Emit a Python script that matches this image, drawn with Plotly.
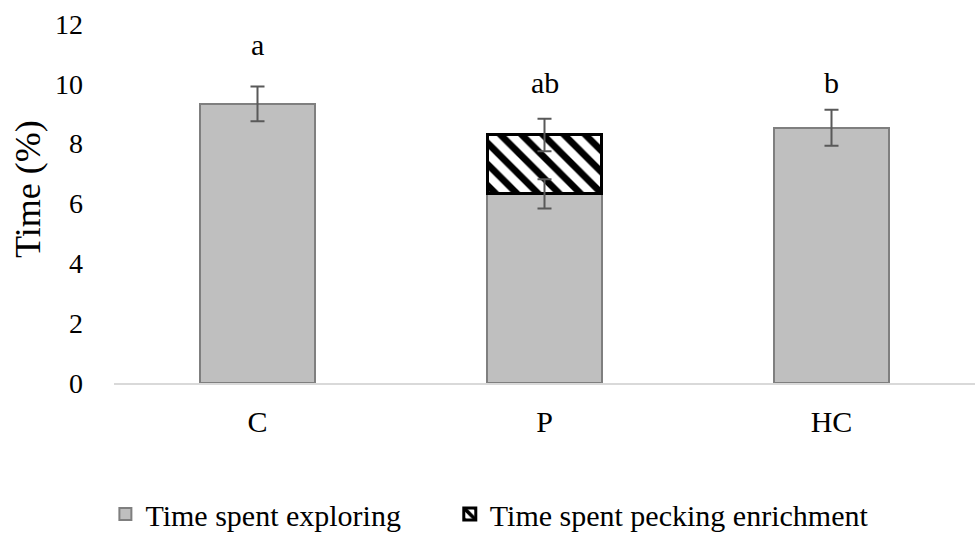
import plotly.graph_objects as go

categories = ["C", "P", "HC"]
explore = [9.33, 6.32, 8.53]
explore_err = [0.58, 0.49, 0.60]
pecking = [None, 1.97, None]
total_err = [None, 0.54, None]
letters = ["a", "ab", "b"]
letter_y = [11.3, 10.05, 10.05]

FONT = "Liberation Serif"

fig = go.Figure()
fig.add_trace(go.Bar(
    x=categories, y=explore, name="Time spent exploring",
    marker=dict(color="#bfbfbf", line=dict(color="#7f7f7f", width=2)),
    width=0.4, legend="legend",
))
fig.add_trace(go.Bar(
    x=categories, y=pecking, name="Time spent pecking enrichment",
    marker=dict(color="white", line=dict(color="black", width=3),
                pattern=dict(shape="\\", fgcolor="black", bgcolor="white", fgopacity=1,
                             size=15, solidity=0.45)),
    width=0.4, legend="legend2",
))
# error bars drawn above bars
fig.add_trace(go.Scatter(
    x=categories, y=explore, mode="markers", marker=dict(opacity=0, size=1),
    error_y=dict(type="data", array=explore_err, color="#595959", thickness=2, width=7),
    showlegend=False, hoverinfo="skip",
))
totals = [e + p if p is not None else None for e, p in zip(explore, pecking)]
fig.add_trace(go.Scatter(
    x=categories, y=totals, mode="markers", marker=dict(opacity=0, size=1),
    error_y=dict(type="data", array=total_err, color="#595959", thickness=2, width=7),
    showlegend=False, hoverinfo="skip",
))

for c, t, ly in zip(categories, letters, letter_y):
    fig.add_annotation(x=c, y=ly, text=t, showarrow=False,
                       font=dict(family=FONT, size=30, color="black"))

# y axis title
fig.add_annotation(xref="paper", yref="paper", x=-0.1, y=0.54, text="Time (%)",
                   textangle=-90, showarrow=False, xanchor="center", yanchor="middle",
                   font=dict(family=FONT, size=36, color="black"))

leg_common = dict(orientation="h", yanchor="bottom", y=-0.437, xanchor="left",
                  font=dict(family=FONT, size=30), itemwidth=30, bgcolor="rgba(0,0,0,0)")

fig.update_layout(
    width=975, height=541,
    barmode="stack",
    plot_bgcolor="white", paper_bgcolor="white",
    margin=dict(l=114, r=0, t=24, b=158),
    font=dict(family=FONT, size=28, color="black"),
    xaxis=dict(range=[-0.5, 2.5], showline=True, linecolor="#d9d9d9", linewidth=2,
               ticks="", ticklabelstandoff=11, showgrid=False,
               tickfont=dict(family=FONT, size=30)),
    yaxis=dict(range=[0, 12], dtick=2, showgrid=False, showline=False, zeroline=False,
               ticks="", ticklabelstandoff=30, tickfont=dict(family=FONT, size=28)),
    legend=dict(x=-0.01, **leg_common),
    legend2=dict(x=0.390, **leg_common),
    showlegend=True,
)

fig.write_html("out.html", config={"displayModeBar": False},
               post_script="document.body.style.margin='0';document.body.style.overflow='hidden';")
